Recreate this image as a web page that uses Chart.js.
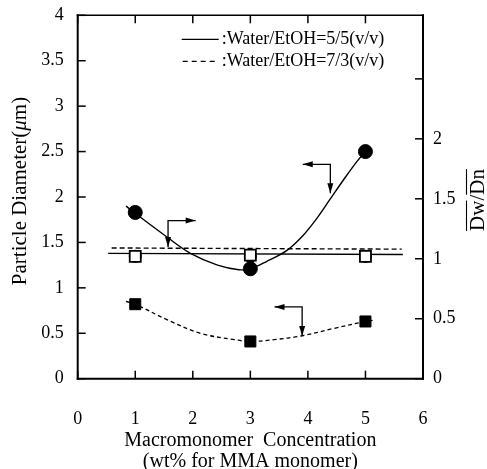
<!DOCTYPE html>
<html><head><meta charset="utf-8">
<script src="https://cdn.jsdelivr.net/npm/chart.js@4"></script>
<style>html,body{margin:0;padding:0;background:#fff}#wrap{width:487px;height:469px}</style>
</head><body><div id="wrap"><canvas id="c" width="487" height="469"></canvas></div>
<script>
// ---- data ----
const xTickValues = [0, 1, 2, 3, 4, 5, 6];
const leftTickValues = [0, 0.5, 1, 1.5, 2, 2.5, 3, 3.5, 4];
const rightTickValues = [0, 0.5, 1, 1.5, 2, 2.5];
const rightLabelMax = 2;
const concentration = [1, 3, 5];
const diameter55 = [1.83, 1.21, 2.50];
const diameter73 = [0.82, 0.41, 0.63];
const dwdn55 = [1.02, 1.02, 1.02];
const dwdn73 = [1.02, 1.03, 1.02];
const fit55X = [0.84, 1.0, 1.55, 1.96, 2.43, 2.8, 3.0, 3.28, 3.63, 3.92, 4.15, 4.38, 4.62, 4.85, 5.0];
const fit55Y = [1.90, 1.82, 1.56, 1.38, 1.25, 1.20, 1.21, 1.29, 1.41, 1.58, 1.76, 1.97, 2.19, 2.39, 2.50];
const fit73X = [0.84, 1.0, 1.55, 2.13, 2.72, 3.0, 3.41, 3.88, 4.46, 5.0, 5.15];
const fit73Y = [0.85, 0.82, 0.65, 0.50, 0.43, 0.41, 0.43, 0.47, 0.555, 0.63, 0.645];
const ratio55X = [0.53, 5.65];
const ratio55Y = [1.045, 1.035];
const ratio73X = [0.59, 5.63];
const ratio73Y = [1.09, 1.08];
const arrow1X = [1.57, 1.57, 2.05];
const arrow1Y = [1.45, 1.74, 1.74];
const arrow2X = [4.39, 4.39, 3.91];
const arrow2Y = [2.04, 2.36, 2.36];
const arrow3X = [3.90, 3.90, 3.42];
const arrow3Y = [0.47, 0.79, 0.79];
const legendLabels = [':Water/EtOH=5/5(v/v)', ':Water/EtOH=7/3(v/v)'];
const xTitleLines = ['Macromonomer  Concentration', '(wt% for MMA monomer)'];
const yTitleParts = ['Particle Diameter(', '\u03bc', 'm)'];
const y2TitleParts = ['Dw', '/', 'Dn'];

const pts = (xs, ys) => xs.map((x, i) => ({x, y: ys[i]}));
const FONT = "'Liberation Serif', 'Times New Roman', serif";
const DASH = [4, 3];
const hiddenTicks = (len) => ({display: true, drawOnChartArea: false, drawTicks: true, tickLength: len, color: 'rgba(0,0,0,0)'});

const decor = {
  id: 'decor',
  afterDraw(chart) {
    const ctx = chart.ctx, a = chart.chartArea;
    const sx = chart.scales.x, sy = chart.scales.y, sy2 = chart.scales.y2;
    ctx.save();
    ctx.strokeStyle = '#000'; ctx.fillStyle = '#000';
    ctx.setLineDash([]);
    const side = (x1, y1, x2, y2, w) => { ctx.lineWidth = w; ctx.beginPath(); ctx.moveTo(x1, y1); ctx.lineTo(x2, y2); ctx.stroke(); };
    // frame
    side(a.left, a.top - 1, a.left, a.bottom + 1, 2);
    side(a.left - 1, a.bottom, a.right + 1, a.bottom, 2);
    side(a.right, a.top - 1, a.right, a.bottom + 1, 2);
    side(a.left - 1, a.top, a.right + 1, a.top, 1.6);
    // inward ticks
    const TL = 8;
    xTickValues.forEach(v => {
      const p = sx.getPixelForValue(v);
      side(p, a.bottom, p, a.bottom - TL, 1.5);
      side(p, a.top, p, a.top + TL, 1.5);
    });
    leftTickValues.forEach(v => { const p = sy.getPixelForValue(v); side(a.left, p, a.left + TL, p, 1.5); });
    rightTickValues.forEach(v => { const p = sy2.getPixelForValue(v); side(a.right, p, a.right - TL, p, 1.5); });
    // arrows
    const head = (tx, ty, fx, fy) => {
      const ang = Math.atan2(ty - fy, tx - fx), L = 10, W = 3;
      ctx.beginPath();
      ctx.moveTo(tx, ty);
      ctx.lineTo(tx - L * Math.cos(ang) + W * Math.sin(ang), ty - L * Math.sin(ang) - W * Math.cos(ang));
      ctx.lineTo(tx - L * Math.cos(ang) - W * Math.sin(ang), ty - L * Math.sin(ang) + W * Math.cos(ang));
      ctx.closePath(); ctx.fill();
    };
    [[arrow1X, arrow1Y], [arrow2X, arrow2Y], [arrow3X, arrow3Y]].forEach(([xs, ys]) => {
      const P = xs.map((x, i) => [sx.getPixelForValue(x), sy.getPixelForValue(ys[i])]);
      ctx.lineWidth = 1.3;
      ctx.beginPath(); ctx.moveTo(P[0][0], P[0][1]);
      for (let i = 1; i < P.length; i++) ctx.lineTo(P[i][0], P[i][1]);
      ctx.stroke();
      const n = P.length - 1;
      head(P[n][0], P[n][1], P[n - 1][0], P[n - 1][1]);
      head(P[0][0], P[0][1], P[1][0], P[1][1]);
    });
    // legend
    ctx.font = '18px ' + FONT; ctx.textBaseline = 'middle'; ctx.textAlign = 'left';
    const lx1 = a.left + 104, lx2 = a.left + 141, ty0 = a.top + 24, dy = 22;
    legendLabels.forEach((t, i) => {
      const yy = ty0 + i * dy;
      ctx.lineWidth = 1.2;
      ctx.setLineDash(i === 0 ? [] : [5, 4]);
      ctx.beginPath(); ctx.moveTo(lx1 + (i ? 1 : 0), yy); ctx.lineTo(lx2, yy); ctx.stroke();
      ctx.setLineDash([]);
      ctx.fillText(t, lx2 + 3, yy);
    });
    // x title
    ctx.font = '20px ' + FONT; ctx.textAlign = 'center';
    const cx = (a.left + a.right) / 2;
    xTitleLines.forEach((t, i) => ctx.fillText(t, cx, 441 + i * 21));
    // y title (rotated)
    ctx.save();
    ctx.translate(20, 191); ctx.rotate(-Math.PI / 2);
    ctx.textAlign = 'left';
    const fN = '21px ' + FONT, fI = 'italic 21px ' + FONT;
    const widths = yTitleParts.map((t, i) => { ctx.font = i === 1 ? fI : fN; return ctx.measureText(t).width; });
    let x0 = -widths.reduce((s, w) => s + w, 0) / 2;
    yTitleParts.forEach((t, i) => { ctx.font = i === 1 ? fI : fN; ctx.fillText(t, x0, 0); x0 += widths[i]; });
    ctx.restore();
    // y2 title with overlines
    ctx.save();
    ctx.translate(478, 200); ctx.rotate(-Math.PI / 2);
    ctx.font = fN; ctx.textAlign = 'left';
    const w2 = y2TitleParts.map(t => ctx.measureText(t).width);
    let x1 = -w2.reduce((s, w) => s + w, 0) / 2;
    ctx.lineWidth = 1.1;
    y2TitleParts.forEach((t, i) => {
      ctx.fillText(t, x1, 0);
      if (t !== '/') { ctx.beginPath(); ctx.moveTo(x1, -11.5); ctx.lineTo(x1 + w2[i], -11.5); ctx.stroke(); }
      x1 += w2[i];
    });
    ctx.restore();
    ctx.restore();
  }
};

new Chart(document.getElementById('c'), {
  type: 'scatter',
  data: {
    datasets: [
      {label: 'd55', data: pts(concentration, diameter55), yAxisID: 'y', pointStyle: 'circle', pointRadius: 7, backgroundColor: '#000', borderColor: '#000', showLine: false},
      {label: 'd73', data: pts(concentration, diameter73), yAxisID: 'y', pointStyle: 'rect', pointRadius: 7.8, backgroundColor: '#000', borderColor: '#000', showLine: false},
      {label: 'r73', data: pts(concentration, dwdn73), yAxisID: 'y2', pointStyle: 'rect', pointRadius: 7.8, pointBorderWidth: 1.8, backgroundColor: '#fff', borderColor: '#000', showLine: false},
      {label: 'r55', data: pts(concentration, dwdn55), yAxisID: 'y2', pointStyle: 'circle', pointRadius: 5.6, pointBorderWidth: 1.8, backgroundColor: '#fff', borderColor: '#000', showLine: false},
      {label: 'f55', data: pts(fit55X, fit55Y), yAxisID: 'y', showLine: true, pointRadius: 0, borderColor: '#000', borderWidth: 1.4, tension: 0.35},
      {label: 'f73', data: pts(fit73X, fit73Y), yAxisID: 'y', showLine: true, pointRadius: 0, borderColor: '#000', borderWidth: 1.3, borderDash: DASH, tension: 0.35},
      {label: 'l55', data: pts(ratio55X, ratio55Y), yAxisID: 'y2', showLine: true, pointRadius: 0, borderColor: '#000', borderWidth: 1.4},
      {label: 'l73', data: pts(ratio73X, ratio73Y), yAxisID: 'y2', showLine: true, pointRadius: 0, borderColor: '#000', borderWidth: 1.4, borderDash: [5, 3]}
    ]
  },
  options: {
    responsive: false, animation: false, devicePixelRatio: 1,
    layout: {padding: {top: 15.3, left: 0, right: 0, bottom: 0}},
    plugins: {legend: {display: false}, tooltip: {enabled: false}},
    scales: {
      x: {type: 'linear', position: 'bottom', min: 0, max: 6,
        grid: {display: false}, border: {display: false},
        ticks: {stepSize: 1, color: '#000', font: {family: FONT, size: 18}, padding: 22, maxRotation: 0, callback: v => String(v)},
        afterFit: s => { s.height = 90.3; }},
      y: {type: 'linear', position: 'left', min: 0, max: 4,
        grid: hiddenTicks(14), border: {display: false},
        ticks: {stepSize: 0.5, color: '#000', font: {family: FONT, size: 18}, padding: 0, callback: v => String(v)},
        afterFit: s => { s.width = 77.7; }},
      y2: {type: 'linear', position: 'right', min: 0, max: 3.03,
        grid: hiddenTicks(10), border: {display: false},
        ticks: {stepSize: 0.5, color: '#000', font: {family: FONT, size: 18}, padding: 0,
          callback: v => (v <= rightLabelMax ? String(v) : '')},
        afterFit: s => { s.width = 64; }}
    }
  },
  plugins: [decor]
});
</script></body></html>
